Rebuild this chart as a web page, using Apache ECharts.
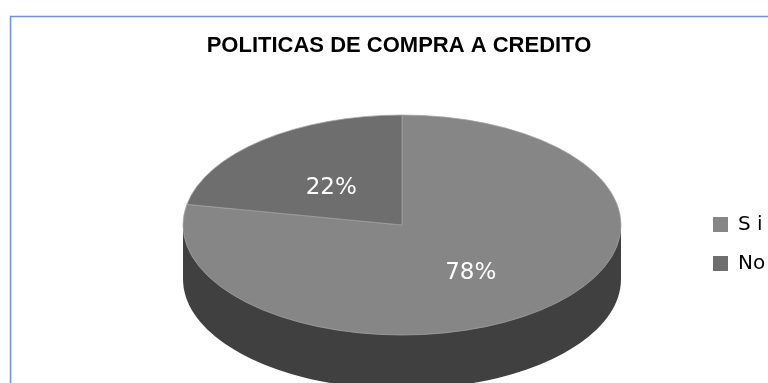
<!DOCTYPE html>
<html>
<head>
<meta charset="utf-8">
<style>html,body{margin:0;padding:0;background:#fff;overflow:hidden}#chart{width:768px;height:383px}</style>
<script src="https://cdn.jsdelivr.net/npm/echarts@6/dist/echarts.min.js"></script>
</head>
<body>
<div id="chart"></div>
<script>
const categories = ['S i', 'No'];
const percents = [78, 22];
const faceColors = ['#868686', '#6e6e6e'];
const titleText = 'POLITICAS DE COMPRA A CREDITO';

const sideColor = '#404040';
const pie = { cx: 402, cy: 225, rx: 219, ry: 110, depth: 54 };
const total = percents.reduce((a, b) => a + b, 0);
const squash = pie.ry / pie.rx;

// Each slice is a circular sector flattened on Y; angles run clockwise from 12 o'clock.
function sliceRenderer(index) {
  return function (params, api) {
    const before = percents.slice(0, index).reduce((a, b) => a + b, 0);
    const value = api.value(0);
    const start = -Math.PI / 2 + (before / total) * Math.PI * 2;
    const end = start + (value / total) * Math.PI * 2;
    const mid = (start + end) / 2;
    return {
      type: 'group',
      children: [
        {
          type: 'sector',
          x: pie.cx,
          y: pie.cy,
          scaleY: squash,
          shape: { cx: 0, cy: 0, r: pie.rx, r0: 0, startAngle: start, endAngle: end, clockwise: true },
          style: { fill: faceColors[index], stroke: '#a4a4a4', lineWidth: 1, strokeNoScale: true }
        },
        {
          type: 'text',
          x: pie.cx + Math.cos(mid) * pie.rx * 0.5 - 1,
          y: pie.cy + Math.sin(mid) * pie.ry * 0.5 + 5.5,
          style: {
            text: value + '%',
            fill: '#fff',
            font: '23px "DejaVu Sans"',
            textAlign: 'center',
            textVerticalAlign: 'middle'
          }
        }
      ]
    };
  };
}

// Extruded wall below the top face.
function wallRenderer() {
  return {
    type: 'group',
    children: [
      {
        type: 'ellipse',
        shape: { cx: pie.cx, cy: pie.cy + pie.depth, rx: pie.rx, ry: pie.ry },
        style: { fill: sideColor }
      },
      {
        type: 'rect',
        shape: { x: pie.cx - pie.rx, y: pie.cy, width: pie.rx * 2, height: pie.depth },
        style: { fill: sideColor }
      }
    ]
  };
}

const series = [
  {
    type: 'custom',
    name: 'Lateral',
    coordinateSystem: 'none',
    silent: true,
    animation: false,
    data: [[0]],
    renderItem: wallRenderer
  }
].concat(categories.map((name, i) => ({
  type: 'custom',
  name: name,
  coordinateSystem: 'none',
  animation: false,
  itemStyle: { color: faceColors[i] },
  data: [[percents[i]]],
  renderItem: sliceRenderer(i)
})));

const chart = echarts.init(document.getElementById('chart'), null, { renderer: 'canvas' });
chart.setOption({
  animation: false,
  backgroundColor: '#fff',
  title: {
    text: titleText,
    left: 394,
    textAlign: 'center',
    top: 30,
    textStyle: { fontFamily: 'Liberation Sans', fontWeight: 'bold', fontSize: 22, color: '#000' }
  },
  legend: {
    data: categories,
    orient: 'vertical',
    left: 713,
    top: 213,
    itemWidth: 15,
    itemHeight: 15,
    itemGap: 16,
    padding: 0,
    icon: 'rect',
    textStyle: { fontFamily: 'DejaVu Sans', fontSize: 20, lineHeight: 20, color: '#000', padding: [3, 0, 0, 5] }
  },
  graphic: [
    {
      type: 'rect',
      silent: true,
      shape: { x: 10.5, y: 16.5, width: 800, height: 420 },
      style: { fill: 'none', stroke: '#6a8cff', lineWidth: 1.5 }
    },
    // The legend column runs off the right margin of the chart area.
    {
      type: 'rect',
      silent: true,
      z: 100,
      shape: { x: 765, y: 245, width: 3, height: 35 },
      style: { fill: '#fff' }
    }
  ],
  series: series
});
</script>
</body>
</html>
